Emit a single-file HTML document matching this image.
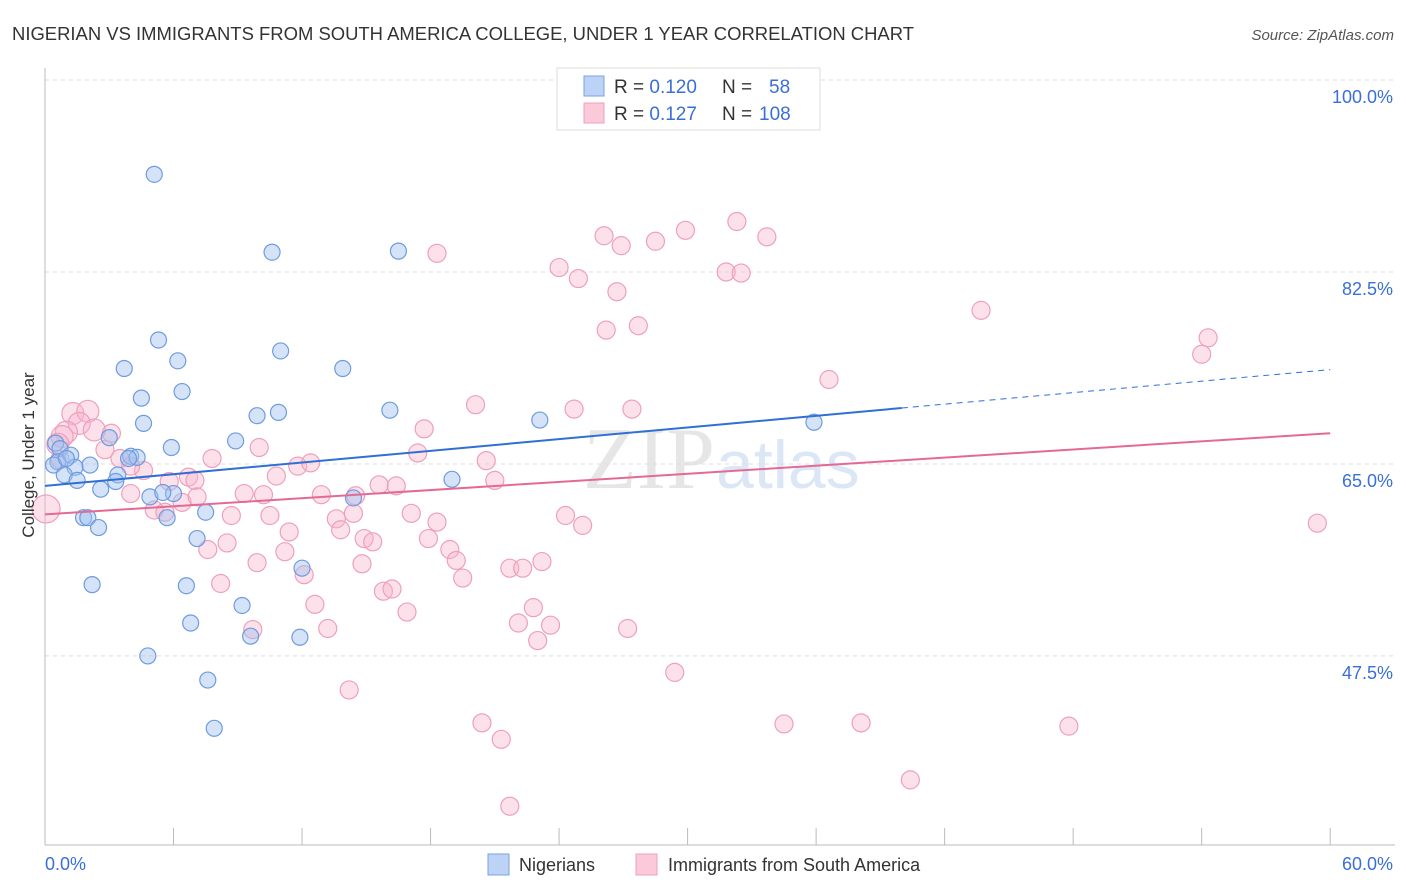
<!DOCTYPE html>
<html><head><meta charset="utf-8">
<style>
body{margin:0;background:#fff;font-family:"Liberation Sans",sans-serif;}
svg{display:block}
</style></head>
<body>
<svg id="chart" width="1406" height="892" viewBox="0 0 1406 892">
<text x="12" y="40" font-size="18" fill="#333" textLength="902" lengthAdjust="spacingAndGlyphs">NIGERIAN VS IMMIGRANTS FROM SOUTH AMERICA COLLEGE, UNDER 1 YEAR CORRELATION CHART</text>
<text x="1394" y="40" font-size="15" fill="#555" font-style="italic" text-anchor="end">Source: ZipAtlas.com</text>
<text x="715" y="488" font-size="88" fill="#e6e6e6" text-anchor="end" font-family="Liberation Serif">ZIP</text>
<text x="716" y="488" font-size="68" fill="#dbe7f6">atlas</text>
<g id="grid"></g>
<g id="axes"></g>
<g id="pts"></g>
<g id="trend"></g>
<text x="34" y="455" font-size="17" fill="#333" text-anchor="middle" transform="rotate(-90 34 455)">College, Under 1 year</text>
<text x="45" y="870" font-size="18" fill="#3a6fd8">0.0%</text>
<text x="1393" y="870" font-size="18" fill="#3a6fd8" text-anchor="end">60.0%</text>
<g>
<rect x="557" y="68" width="263" height="62" fill="#fff" stroke="#ddd"/>
<rect x="584" y="76" width="20" height="20" fill="#bcd3f5" stroke="#7aa3e6"/>
<rect x="584" y="103" width="20" height="20" fill="#fbc9da" stroke="#eea0bb"/>
<text x="614" y="93" font-size="19" fill="#333">R = <tspan fill="#3a6fd8">0.120</tspan><tspan x="722">N = </tspan><tspan x="769" fill="#3a6fd8">58</tspan></text>
<text x="614" y="120" font-size="19" fill="#333">R = <tspan fill="#3a6fd8">0.127</tspan><tspan x="722">N = </tspan><tspan x="759" fill="#3a6fd8">108</tspan></text>
</g>
<g>
<rect x="488" y="854" width="21" height="21" fill="#bcd3f5" stroke="#7aa3e6"/>
<text x="519" y="871" font-size="18" fill="#333">Nigerians</text>
<rect x="636" y="854" width="21" height="21" fill="#fbc9da" stroke="#eea0bb"/>
<text x="668" y="871" font-size="18" fill="#333">Immigrants from South America</text>
</g>
</svg>
<script>
const yTicks=[100,82.5,65,47.5];
const yTickLabels=["100.0%","82.5%","65.0%","47.5%"];
const xTicks=[0,6,12,18,24,30,36,42,48,54,60];
const blueX=[5.1,10.6,16.5,5.3,6.2,11.0,3.7,13.9,6.4,4.5,9.9,10.9,16.1,4.6,23.1,35.9,8.9,5.9,3.0,0.5,0.7,1.2,2.1,0.6,1.4,0.4,0.9,1.5,3.4,4.0,4.3,3.9,3.3,2.6,4.9,6.0,5.5,14.4,19.0,1.8,2.0,5.7,7.5,2.5,7.1,12.0,2.2,6.6,9.2,6.8,9.6,11.9,4.8,7.6,7.9,1.0];
const blueY=[91.4,84.3,84.4,76.3,74.4,75.3,73.7,73.7,71.6,71.0,69.4,69.7,69.9,68.7,69.0,68.8,67.1,66.5,67.4,66.9,66.4,65.8,64.9,65.2,64.7,64.9,64.0,63.5,64.0,65.7,65.6,65.5,63.4,62.7,62.0,62.3,62.4,61.9,63.6,60.1,60.1,60.1,60.6,59.2,58.2,55.5,54.0,53.9,52.1,50.5,49.3,49.2,47.5,45.3,40.9,65.5];
const pinkX=[35.3,32.3,29.9,33.7,26.1,26.9,28.5,18.3,24.0,24.9,31.8,32.5,26.7,43.7,27.7,26.2,54.3,54.0,36.6,20.1,24.7,27.4,1.3,2.0,1.6,1.0,0.8,2.3,3.1,0.6,2.8,0.7,3.5,10.0,7.8,17.7,17.4,20.6,11.8,12.4,10.8,6.7,4.6,4.0,5.8,7.0,21.0,15.6,16.4,0.05,4.0,5.1,6.4,7.1,9.3,10.2,12.9,14.5,5.6,8.7,10.5,13.6,14.4,17.1,18.3,24.3,25.1,11.4,13.8,14.9,15.3,17.9,7.6,8.5,9.9,11.2,18.9,19.2,14.8,12.1,19.5,21.7,22.3,23.2,8.2,15.8,16.2,12.6,16.9,22.8,22.1,23.6,27.2,13.2,9.7,23.0,29.4,14.2,20.4,21.3,34.5,38.1,47.8,40.4,21.7,59.4];
const pinkY=[100,87.1,86.3,85.7,85.8,84.9,85.3,84.2,82.9,81.9,82.5,82.4,80.7,79.0,77.6,77.2,76.5,75.0,72.7,70.4,70.0,70.0,69.6,69.8,68.7,67.9,67.5,68.1,67.8,66.8,66.3,65.4,65.5,66.5,65.5,68.2,66.0,65.3,64.8,65.1,63.9,63.8,64.4,64.8,63.4,63.5,63.5,63.1,63.0,60.9,62.3,60.8,61.5,62.0,62.3,62.2,62.2,62.1,60.6,60.3,60.3,60.0,60.5,60.5,59.7,60.3,59.4,58.8,59.0,58.2,57.9,58.2,57.2,57.8,56.0,57.0,57.2,56.2,55.9,54.9,54.6,55.5,55.5,56.1,54.1,53.4,53.6,52.2,51.5,51.9,50.5,50.3,50.0,50.0,49.9,48.9,46.0,44.4,41.4,39.9,41.3,41.4,41.1,36.2,33.8,59.6];
const blueTrend=[63.0,70.1,73.6]; // at x=0, 40 (solid end), 60
const pinkTrend=[60.4,67.8]; // at x=0, 60
const NS='http://www.w3.org/2000/svg';
const X=v=>45+v*21.42, Y=v=>80+(100-v)*10.97;
function mk(tag,attrs,parent){const e=document.createElementNS(NS,tag);for(const k in attrs)e.setAttribute(k,attrs[k]);parent.appendChild(e);return e;}
const grid=document.getElementById('grid'),axes=document.getElementById('axes'),pts=document.getElementById('pts'),trend=document.getElementById('trend');
yTicks.forEach((t,i)=>{
 const l=mk('line',{x1:45,x2:1395,y1:Y(t),y2:Y(t),stroke:'#ddd','stroke-dasharray':'4,4'},grid);
 
 
 const tx=mk('text',{x:1393,y:Y(t)+23,'font-size':18,fill:'#3a6fd8','text-anchor':'end'},grid);
 tx.textContent=yTickLabels[i];
 
 
});
const ya=mk('line',{x1:45,x2:45,y1:68,y2:845,stroke:'#bbb'},axes);


const xa=mk('line',{x1:45,x2:1395,y1:845,y2:845,stroke:'#bbb'},axes);


xTicks.forEach(t=>{
 const l=mk('line',{x1:X(t),x2:X(t),y1:828,y2:845,stroke:'#bbb'},axes);
 
 
});
pinkX.forEach((v,i)=>{
 const r=(v<1&&pinkY[i]<62)?14:(v<2.5&&pinkY[i]>66?11:9);
 const c=mk('circle',{cx:X(v),cy:Y(pinkY[i]),r:r,fill:'rgba(248,180,204,0.4)',stroke:'#eea0bb','stroke-width':1.2},pts);
 
 
});
blueX.forEach((v,i)=>{
 const c=mk('circle',{cx:X(v),cy:Y(blueY[i]),r:8,fill:'rgba(160,192,240,0.45)',stroke:'#6f9be0','stroke-width':1.2},pts);
 
 
});
const b1=mk('line',{x1:X(0),y1:Y(blueTrend[0]),x2:X(40),y2:Y(blueTrend[1]),stroke:'#2f6fd6','stroke-width':2},trend);


const b2=mk('line',{x1:X(40),y1:Y(blueTrend[1]),x2:X(60),y2:Y(blueTrend[2]),stroke:'#2f6fd6','stroke-width':1,'stroke-dasharray':'6,5'},trend);


const p1=mk('line',{x1:X(0),y1:Y(pinkTrend[0]),x2:X(60),y2:Y(pinkTrend[1]),stroke:'#e46a95','stroke-width':2},trend);


</script>
</body></html>
